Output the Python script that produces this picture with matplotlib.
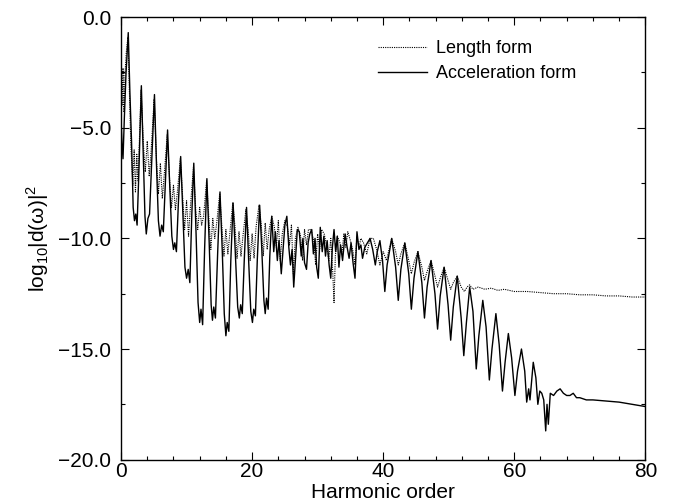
import matplotlib
matplotlib.use("Agg")
import matplotlib.pyplot as plt
from matplotlib.ticker import MultipleLocator, FuncFormatter

plt.rcParams["font.family"] = ["Liberation Sans", "DejaVu Sans"]
plt.rcParams["mathtext.fontset"] = "custom"
plt.rcParams["mathtext.rm"] = "Liberation Sans"

# (harmonic order, log10|d(w)|^2), length form (dotted)
length_form = [
    (0.0, -1.9), (0.15, -4.0), (0.3, -2.3), (0.45, -4.3), (0.6, -2.6), (0.8, -1.6),
    (1.05, -0.9), (1.3, -3.6), (1.5, -5.8), (1.8, -7.6), (2.0, -6.0), (2.2, -7.9),
    (2.4, -6.2), (2.6, -7.4), (3.05, -3.3), (3.4, -5.7), (3.7, -7.0), (4.0, -5.6),
    (4.3, -7.2), (4.6, -6.0), (5.05, -3.7), (5.4, -6.4), (5.7, -8.0), (6.0, -6.6),
    (6.3, -8.2), (6.6, -7.1), (7.05, -5.3), (7.4, -7.3), (7.7, -8.6), (8.0, -7.6),
    (8.3, -8.7), (8.6, -7.9), (9.05, -6.4), (9.4, -8.1), (9.7, -9.6), (10.0, -8.3),
    (10.3, -9.9), (10.6, -8.5), (11.05, -6.8), (11.4, -8.7), (11.7, -9.6), (12.0, -8.6),
    (12.3, -9.4), (12.6, -9.0), (13.05, -7.4), (13.4, -9.1), (13.7, -10.5), (14.0, -9.1),
    (14.3, -10.0), (14.6, -9.3), (15.05, -8.0), (15.4, -9.5), (15.7, -10.8), (16.0, -9.6),
    (16.3, -10.7), (16.6, -9.8), (17.05, -8.4), (17.4, -9.5), (17.7, -10.9), (18.0, -9.7),
    (18.3, -10.8), (18.6, -9.9), (19.05, -8.7), (19.4, -9.6), (19.7, -11.0), (20.0, -9.8),
    (20.3, -10.9), (20.6, -9.5), (21.05, -8.5), (21.4, -9.4), (21.7, -10.8), (22.0, -9.3),
    (22.3, -10.5), (22.6, -9.6), (23.0, -9.0), (23.4, -9.5), (23.7, -10.4), (24.0, -9.2),
    (24.3, -11.0), (24.6, -9.8), (25.0, -9.2), (25.4, -9.5), (25.7, -10.3), (26.0, -9.4),
    (26.3, -11.6), (26.6, -10.0), (27.0, -9.5), (27.4, -9.9), (27.7, -11.0), (28.0, -9.6),
    (28.3, -10.3), (28.6, -9.6), (29.0, -9.6), (29.4, -10.1), (29.7, -11.2), (30.0, -9.8),
    (30.3, -10.5), (30.6, -9.6), (31.0, -9.8), (31.4, -10.4), (31.7, -11.0), (32.0, -10.0),
    (32.3, -11.5), (32.5, -12.9), (32.7, -10.8), (33.0, -9.9), (33.4, -10.2), (33.7, -10.7),
    (34.0, -9.8), (34.3, -10.4), (34.6, -9.7), (35.0, -10.1), (35.4, -10.6), (35.7, -11.2),
    (36.0, -9.9), (36.3, -10.4), (36.6, -10.0), (37.0, -10.2), (37.5, -10.7), (38.0, -10.0),
    (38.5, -10.0), (39.0, -10.5), (39.5, -11.2), (40.0, -10.6), (40.5, -11.0), (41.3, -10.0),
    (41.9, -10.6), (42.3, -11.2), (42.7, -10.7), (43.3, -10.2), (43.9, -11.0), (44.3, -11.6),
    (44.7, -11.1), (45.3, -10.6), (45.9, -11.3), (46.3, -11.9), (46.7, -11.5), (47.3, -11.0),
    (47.9, -11.7), (48.3, -12.2), (48.7, -11.8), (49.3, -11.3), (49.9, -11.9), (50.3, -12.3),
    (50.7, -12.0), (51.3, -11.7), (51.9, -12.2), (52.4, -12.4), (52.8, -12.2), (53.2, -12.1),
    (53.7, -12.3), (54.5, -12.2), (55.5, -12.3), (56.5, -12.25), (57.5, -12.35), (58.5, -12.3),
    (60.0, -12.4), (62.0, -12.4), (64.0, -12.45), (66.0, -12.5), (68.0, -12.5), (70.0, -12.55),
    (72.0, -12.55), (74.0, -12.6), (76.0, -12.6), (78.0, -12.65), (80.0, -12.65),
]

# acceleration form (solid)
accel_form = [
    (0.0, -4.6), (0.15, -5.7), (0.3, -6.4), (0.5, -4.6), (0.75, -2.6), (1.1, -0.7),
    (1.35, -3.4), (1.6, -5.6), (1.85, -8.6), (2.05, -9.2), (2.25, -8.9), (2.45, -9.4),
    (2.7, -7.2), (3.1, -3.1), (3.4, -6.3), (3.65, -9.0), (3.85, -9.8), (4.1, -9.1),
    (4.35, -8.9), (4.7, -6.4), (5.1, -3.5), (5.4, -6.6), (5.7, -9.2), (5.95, -9.9),
    (6.2, -9.4), (6.45, -9.7), (6.75, -7.6), (7.1, -5.1), (7.4, -7.4), (7.75, -9.9),
    (8.0, -10.5), (8.2, -10.2), (8.45, -10.6), (8.75, -8.4), (9.1, -6.3), (9.4, -8.6),
    (9.75, -11.3), (10.0, -11.8), (10.25, -11.4), (10.5, -12.0), (10.8, -8.9), (11.1, -6.6),
    (11.45, -9.8), (11.75, -12.9), (12.0, -13.8), (12.2, -13.2), (12.45, -13.9), (12.75, -10.5),
    (13.1, -7.3), (13.45, -10.2), (13.75, -13.0), (13.95, -13.7), (14.15, -13.1), (14.4, -13.6),
    (14.75, -10.6), (15.1, -7.9), (15.45, -10.6), (15.75, -13.4), (16.0, -14.4), (16.2, -13.8),
    (16.45, -14.2), (16.75, -11.0), (17.1, -8.4), (17.45, -10.8), (17.8, -13.1), (18.05, -13.6),
    (18.25, -13.0), (18.5, -13.4), (18.8, -11.0), (19.15, -8.6), (19.5, -11.2), (19.8, -13.3),
    (20.05, -13.8), (20.25, -13.2), (20.5, -13.5), (20.8, -10.9), (21.15, -8.5), (21.45, -10.3),
    (21.8, -12.8), (22.0, -13.4), (22.2, -12.7), (22.45, -13.2), (22.7, -10.8), (23.0, -9.0),
    (23.3, -10.6), (23.55, -9.7), (23.85, -11.0), (24.1, -10.1), (24.45, -11.6), (24.7, -10.6),
    (25.0, -9.4), (25.3, -9.0), (25.6, -10.4), (25.85, -11.2), (26.1, -10.5), (26.35, -12.2),
    (26.6, -11.0), (26.9, -9.6), (27.2, -9.7), (27.5, -10.8), (27.75, -10.0), (28.0, -11.1),
    (28.3, -11.4), (28.55, -10.2), (28.8, -9.8), (29.1, -9.6), (29.35, -10.7), (29.6, -10.0),
    (29.85, -11.3), (30.1, -11.8), (30.4, -9.5), (30.7, -10.6), (30.95, -9.9), (31.2, -10.8),
    (31.45, -10.1), (31.75, -11.2), (32.0, -11.8), (32.25, -10.4), (32.5, -9.6), (32.75, -10.6),
    (33.0, -9.9), (33.25, -11.3), (33.5, -10.3), (33.8, -11.0), (34.2, -9.8), (34.5, -10.4),
    (34.8, -10.9), (35.1, -10.2), (35.4, -11.1), (35.7, -11.8), (36.0, -9.7), (36.3, -10.5),
    (36.6, -10.3), (36.85, -10.9), (37.2, -10.4), (37.6, -10.2), (38.0, -10.0), (38.4, -10.5),
    (38.8, -11.2), (39.1, -10.6), (39.5, -10.1), (39.9, -11.0), (40.25, -12.4), (40.6, -11.2),
    (41.3, -10.0), (41.9, -11.3), (42.3, -12.8), (42.7, -11.4), (43.3, -10.2), (43.9, -11.6),
    (44.3, -13.2), (44.7, -11.8), (45.3, -10.6), (45.9, -12.0), (46.3, -13.6), (46.7, -12.2),
    (47.3, -11.0), (47.9, -12.5), (48.3, -14.1), (48.7, -12.6), (49.3, -11.3), (49.9, -13.0),
    (50.3, -14.6), (50.7, -13.1), (51.3, -11.7), (51.9, -13.6), (52.3, -15.3), (52.7, -13.8),
    (53.2, -12.2), (53.7, -13.3), (54.2, -15.9), (54.6, -14.4), (55.2, -12.8), (55.7, -14.0),
    (56.2, -16.4), (56.6, -15.0), (57.2, -13.4), (57.7, -14.8), (58.2, -16.9), (58.6, -15.6),
    (59.1, -14.3), (59.6, -15.4), (60.1, -17.1), (60.5, -16.0), (61.1, -15.0), (61.6, -16.0),
    (61.9, -17.4), (62.2, -16.8), (62.4, -17.3), (62.9, -15.6), (63.3, -16.3), (63.6, -17.5),
    (63.9, -16.9), (64.2, -17.0), (64.5, -17.3), (64.8, -18.7), (65.0, -17.5), (65.2, -18.4),
    (65.5, -17.0), (66.0, -17.1), (66.5, -16.9), (67.0, -16.8), (67.5, -17.0), (68.0, -17.1),
    (68.5, -17.1), (69.0, -17.0), (69.5, -17.2), (70.0, -17.2), (71.0, -17.3), (72.0, -17.3),
    (74.0, -17.35), (76.0, -17.4), (78.0, -17.5), (80.0, -17.6),
]

len_x, len_y = zip(*length_form)
acc_x, acc_y = zip(*accel_form)

fig = plt.figure(figsize=(6.8, 5.04), dpi=100)
ax = fig.add_axes([0.178, 0.088, 0.771, 0.878])

ax.plot(len_x, len_y, color="black", linewidth=0.8, linestyle=(0, (1, 1)), label="Length form")
ax.plot(acc_x, acc_y, color="black", linewidth=1.0, label="Acceleration form")

ax.set_xlim(0, 80)
ax.set_ylim(-20, 0)
ax.xaxis.set_major_locator(MultipleLocator(20))
ax.xaxis.set_minor_locator(MultipleLocator(4))
ax.yaxis.set_major_locator(MultipleLocator(5))
ax.yaxis.set_minor_locator(MultipleLocator(2.5))
ax.yaxis.set_major_formatter(FuncFormatter(lambda v, p: f"{v:.1f}".replace("-", "\u2212")))
ax.tick_params(which="both", direction="in", top=True, right=True, labelsize=15, width=0.8)
ax.tick_params(which="major", length=6)
ax.tick_params(axis="x", which="major", pad=2)
ax.tick_params(axis="y", which="major", pad=7)
ax.tick_params(which="minor", length=3)
for s in ax.spines.values():
    s.set_linewidth(1.0)

ax.set_xlabel("Harmonic order", fontsize=15, labelpad=1)
ax.set_ylabel("log$_{\\mathregular{10}}$|d(ω)|$^{\\mathregular{2}}$", fontsize=15, labelpad=5)

ax.legend(loc="upper left", bbox_to_anchor=(0.46, 0.985), frameon=False, fontsize=13,
          handlelength=2.7, handletextpad=0.5, labelspacing=0.45)

fig.savefig("out.png", dpi=100)
